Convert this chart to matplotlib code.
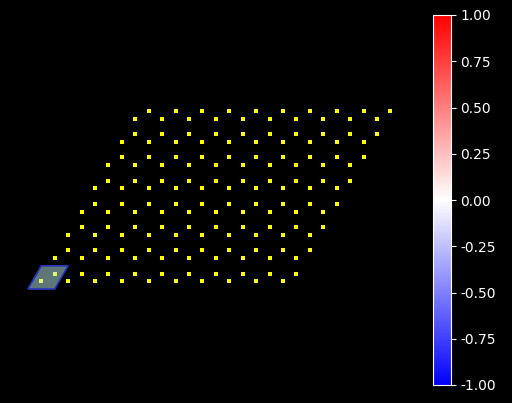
import numpy as np
import matplotlib
matplotlib.use("Agg")
import matplotlib.pyplot as plt
from matplotlib.patches import Polygon
from matplotlib import cm, colors

# lattice description
a1 = np.array([1.0, 0.0])
a2 = np.array([0.5, np.sqrt(3) / 2])
basis = [np.array([0.0, 0.0]), (a1 + a2) / 3]
n1_cells = 10
n2_cells = 8
cbar_ticks = [-1.00, -0.75, -0.50, -0.25, 0.00, 0.25, 0.50, 0.75, 1.00]

pts = []
for j in range(n2_cells):
    for i in range(n1_cells):
        for b in basis:
            pts.append(i * a1 + j * a2 + b)
pts = np.array(pts)

fig = plt.figure(figsize=(5.12, 4.03), dpi=100, facecolor="black")
W, H = 512, 403
s = 26.85  # px per unit
ox, oy = 41.3, 281.3
axw = 420
ax = fig.add_axes([0, 0, axw / W, 1])
ax.set_facecolor("black")
ax.set_xlim(-ox / s, (axw - ox) / s)
ax.set_ylim(-(H - oy) / s, oy / s)
ax.axis("off")

ax.scatter(pts[:, 0], pts[:, 1], s=5, c="yellow", marker="s", linewidths=0, zorder=2)

corner = -(a1 + a2) / 3
cell = np.array([corner, corner + a1, corner + a1 + a2, corner + a2])
ax.add_patch(Polygon(cell, closed=True, facecolor=(0.75, 0.93, 0.95, 0.5),
                     edgecolor="#2433b8", linewidth=1.2, zorder=3))

cax = fig.add_axes([432.5 / W, (H - 385) / H, 18 / W, 370 / H])
sm = cm.ScalarMappable(norm=colors.Normalize(-1, 1), cmap="bwr")
cb = fig.colorbar(sm, cax=cax, ticks=cbar_ticks)
cb.outline.set_edgecolor("white")
cax.tick_params(colors="white", labelsize=10)
cax.yaxis.set_major_formatter(matplotlib.ticker.FormatStrFormatter("%.2f"))
for t in cax.get_yticklabels():
    t.set_color("white")

fig.savefig("out.png", dpi=100, facecolor="black")
